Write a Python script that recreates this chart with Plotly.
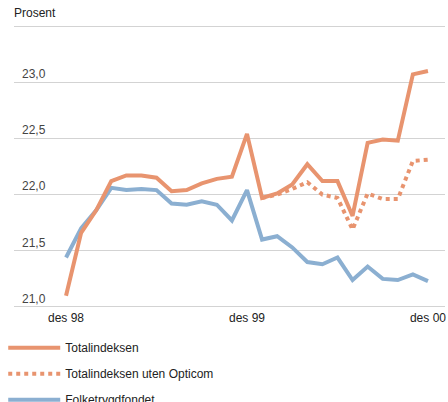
import plotly.graph_objects as go

months = list(range(25))  # des 98 .. des 00, monthly
tick_pos = [0, 12, 24]
tick_text = ["des 98", "des 99", "des 00"]

totalindeksen = [21.10, 21.66, 21.86, 22.12, 22.17, 22.17, 22.15, 22.03, 22.04, 22.10,
                 22.14, 22.16, 22.54, 21.97, 22.01, 22.09, 22.27, 22.12, 22.12, 21.81,
                 22.46, 22.49, 22.48, 23.07, 23.10]
uten_opticom = [None] * 13 + [21.97, 22.00, 22.05, 22.11, 22.00, 21.97, 21.69,
                              22.01, 21.96, 21.96, 22.30, 22.31]
folketrygdfondet = [21.44, 21.70, 21.86, 22.06, 22.04, 22.05, 22.04, 21.92, 21.91, 21.94,
                    21.91, 21.77, 22.04, 21.60, 21.63, 21.53, 21.40, 21.38, 21.44, 21.24,
                    21.36, 21.25, 21.24, 21.29, 21.23]

y_ticks = [21.0, 21.5, 22.0, 22.5, 23.0, 23.5]
y_text = ["21,0", "21,5", "22,0", "22,5", "23,0", ""]

orange = "#E8946F"
blue = "#8BAFD1"
grid = "#d3d3d3"

fig = go.Figure()
fig.add_trace(go.Scatter(x=months, y=folketrygdfondet, mode="lines", name="Folketrygdfondet",
                         line=dict(color=blue, width=4), legendrank=3, legendgroup="c"))
fig.add_trace(go.Scatter(x=months, y=uten_opticom, mode="lines", name="Totalindeksen uten Opticom",
                         line=dict(color=orange, width=4, dash="dot"), legendrank=2, legendgroup="b"))
fig.add_trace(go.Scatter(x=months, y=totalindeksen, mode="lines", name="Totalindeksen",
                         line=dict(color=orange, width=4), legendrank=1, legendgroup="a"))

fig.update_layout(
    width=448, height=402,
    margin=dict(l=14, r=3, t=24, b=93, autoexpand=False),
    plot_bgcolor="white", paper_bgcolor="white",
    font=dict(family="Liberation Sans, Arial, sans-serif", size=12, color="#222"),
    showlegend=True,
    legend=dict(x=-0.025, y=-0.085, xanchor="left", yanchor="top", itemwidth=52,
                tracegroupgap=7, font=dict(size=12), bgcolor="rgba(0,0,0,0)"),
)
fig.add_annotation(text="Prosent", xref="paper", yref="paper", x=-0.005, y=1.037,
                   xanchor="left", yanchor="middle", showarrow=False, font=dict(size=12))

fig.update_xaxes(range=[-3.45, 25.13], tickvals=tick_pos, ticktext=tick_text,
                 showgrid=False, zeroline=False, showline=False,
                 ticks="", fixedrange=True, ticklabeloverflow="allow")
# range padded slightly so the 21,0 and 23,5 grid lines are not clipped at the frame edge
fig.update_yaxes(range=[20.982, 23.518], tickvals=y_ticks, ticktext=y_text,
                 showgrid=True, gridcolor=grid, gridwidth=1, zeroline=False,
                 ticks="", ticklabelposition="inside top", ticklabelstandoff=5)

fig.write_html("out.html", config={"displayModeBar": False},
               post_script="document.body.style.margin='0';")
